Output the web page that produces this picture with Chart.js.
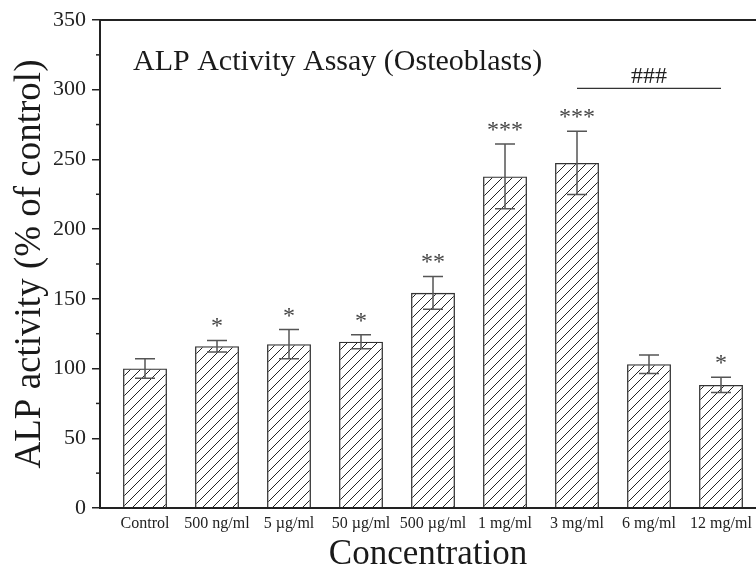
<!DOCTYPE html>
<html>
<head>
<meta charset="utf-8">
<script src="https://cdn.jsdelivr.net/npm/chart.js@4/dist/chart.umd.min.js"></script>
<style>
  html, body { margin: 0; padding: 0; background: #fff; }
  #wrap { width: 756px; height: 574px; }
</style>
</head>
<body>
<div id="wrap"><canvas id="alpChart" width="756" height="574"></canvas></div>
<script>
// values
const concentrations = ['Control', '500 ng/ml', '5 \u00b5g/ml', '50 \u00b5g/ml', '500 \u00b5g/ml', '1 mg/ml', '3 mg/ml', '6 mg/ml', '12 mg/ml'];
const alpActivity = [100, 116, 117.5, 119.3, 154.3, 237.8, 247.5, 103.1, 88.3];
const errorSD = [7, 4.2, 10.5, 5, 11.8, 23.2, 22.7, 6.6, 5.4];
const significance = ['', '*', '*', '*', '**', '***', '***', '', '*'];
const hashGroup = [6, 8];      // from 3 mg/ml to 12 mg/ml
const hashLevel = 301;
const hashLabel = '###';
const minorTicks = [25, 75, 125, 175, 225, 275, 325];

const serif = '"Liberation Serif", "Times New Roman", serif';

// diagonal hatch
function hatch() {
  const c = document.createElement('canvas');
  c.width = 10; c.height = 10;
  const g = c.getContext('2d');
  g.strokeStyle = '#222';
  g.lineWidth = 1;
  g.beginPath();
  g.moveTo(0, 10); g.lineTo(10, 0);
  g.moveTo(-1, 1); g.lineTo(1, -1);
  g.moveTo(9, 11); g.lineTo(11, 9);
  g.stroke();
  return g.createPattern(c, 'repeat');
}

const extras = {
  id: 'extras',
  afterDatasetsDraw(chart) {
    const ctx = chart.ctx;
    const x = chart.scales.x, y = chart.scales.y;
    const a = chart.chartArea;
    ctx.save();

    // top frame line
    ctx.strokeStyle = '#222';
    ctx.lineWidth = 2;
    ctx.beginPath();
    ctx.moveTo(a.left, a.top); ctx.lineTo(a.right, a.top);
    ctx.stroke();

    // minor ticks
    ctx.lineWidth = 1.5;
    minorTicks.forEach(v => {
      const py = y.getPixelForValue(v);
      ctx.beginPath();
      ctx.moveTo(a.left - 4, py); ctx.lineTo(a.left, py);
      ctx.stroke();
    });

    // error bars
    ctx.strokeStyle = '#555';
    ctx.lineWidth = 1.5;
    alpActivity.forEach((v, i) => {
      const px = x.getPixelForValue(i);
      const hi = y.getPixelForValue(v + errorSD[i]);
      const lo = y.getPixelForValue(v - errorSD[i]);
      ctx.beginPath();
      ctx.moveTo(px, hi); ctx.lineTo(px, lo);
      ctx.moveTo(px - 10, hi); ctx.lineTo(px + 10, hi);
      ctx.moveTo(px - 10, lo); ctx.lineTo(px + 10, lo);
      ctx.stroke();
    });

    // significance stars
    ctx.fillStyle = '#444';
    ctx.font = '24px ' + serif;
    ctx.textAlign = 'center';
    ctx.textBaseline = 'alphabetic';
    significance.forEach((s, i) => {
      if (!s) return;
      const px = x.getPixelForValue(i);
      const hi = y.getPixelForValue(alpActivity[i] + errorSD[i]);
      ctx.fillText(s, px, hi - 7);
    });

    // ### bracket
    const ly = y.getPixelForValue(hashLevel);
    ctx.strokeStyle = '#333';
    ctx.lineWidth = 1.2;
    ctx.beginPath();
    ctx.moveTo(x.getPixelForValue(hashGroup[0]), ly);
    ctx.lineTo(x.getPixelForValue(hashGroup[1]), ly);
    ctx.stroke();
    ctx.fillStyle = '#222';
    ctx.fillText(hashLabel, x.getPixelForValue((hashGroup[0] + hashGroup[1]) / 2), ly - 5);

    // inner title
    ctx.fillStyle = '#1a1a1a';
    ctx.font = '30px ' + serif;
    ctx.textAlign = 'left';
    ctx.fillText('ALP Activity Assay (Osteoblasts)', a.left + 33, a.top + 50);
    ctx.restore();
  }
};

new Chart('alpChart', {
  type: 'bar',
  data: {
    datasets: [{
      data: alpActivity.map((v, i) => ({x: i, y: v})),
      backgroundColor: hatch(),
      borderColor: '#333',
      borderWidth: 1.3,
      barPercentage: 0.61,
      categoryPercentage: 1
    }]
  },
  options: {
    responsive: false,
    animation: false,
    layout: {padding: {left: 0, top: 20, right: 0, bottom: 0}},
    plugins: {legend: {display: false}, tooltip: {enabled: false}},
    scales: {
      x: {
        type: 'linear',
        offset: false,
        min: -0.625,
        max: 8.486,
        afterBuildTicks: s => { s.ticks = concentrations.map((_, i) => ({value: i})); },
        afterFit: s => { s.height = 66; s.paddingLeft = 0; s.paddingRight = 0; },
        grid: {display: false, drawTicks: false},
        border: {display: true, width: 2, color: '#222'},
        ticks: {
          autoSkip: false,
          maxRotation: 0,
          padding: 6,
          color: '#222',
          font: {family: serif, size: 16},
          callback: v => concentrations[v] || ''
        },
        title: {
          display: true,
          text: 'Concentration',
          color: '#1a1a1a',
          font: {family: serif, size: 35, lineHeight: 1.1},
          padding: {top: 0, bottom: 0}
        }
      },
      y: {
        min: 0,
        max: 350,
        afterFit: s => { s.width = 100; },
        ticks: {stepSize: 50, padding: 6, color: '#222', font: {family: serif, size: 22}},
        grid: {drawOnChartArea: false, drawTicks: true, tickLength: 8, color: '#222', lineWidth: 1.5},
        border: {display: true, width: 2, color: '#222'},
        title: {
          display: true,
          text: 'ALP activity (% of control)',
          color: '#1a1a1a',
          font: {family: serif, size: 37},
          padding: {top: 8, bottom: 0}
        }
      }
    }
  },
  plugins: [extras]
});
</script>
</body>
</html>
